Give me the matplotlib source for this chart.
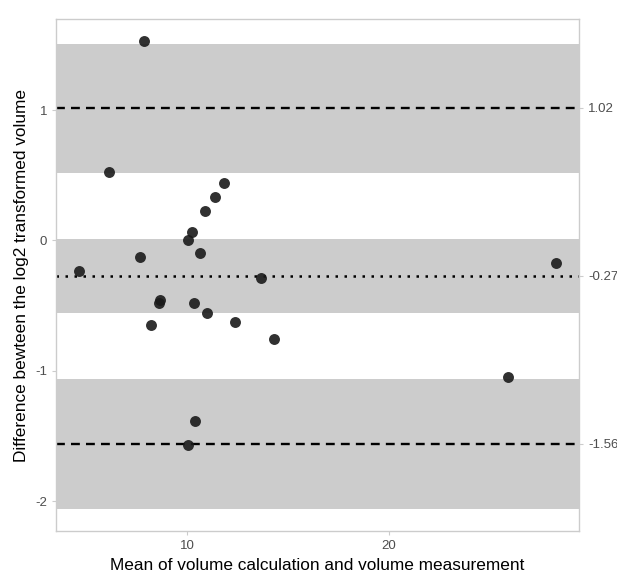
import numpy as np
import matplotlib
matplotlib.use('Agg')
import matplotlib.pyplot as plt

plt.rcParams['font.family'] = ['Liberation Sans', 'DejaVu Sans']
plt.rcParams['axes.unicode_minus'] = False

mean_vol = [7.85, 6.15, 11.83, 11.37, 10.91, 10.26, 10.05, 10.66, 7.68, 4.64, 13.65,
            28.29, 8.68, 8.59, 10.33, 10.97, 8.23, 12.39, 14.33, 10.41, 10.05, 25.94]
diff_log2 = [1.53, 0.527, 0.44, 0.337, 0.229, 0.068, 0.004, -0.098, -0.129, -0.232, -0.29,
             -0.175, -0.458, -0.483, -0.478, -0.553, -0.645, -0.622, -0.76, -1.383, -1.568, -1.048]

bias = -0.27
upper_loa = 1.02
lower_loa = -1.56
# confidence bands (low, high)
bias_ci = (-0.56, 0.014)
upper_ci = (0.52, 1.51)
lower_ci = (-2.06, -1.065)
line_labels = ['1.02', '-0.27', '-1.56']

fig = plt.figure(figsize=(6.17, 5.73), dpi=100)
ax = fig.add_axes([0.0908, 0.0733, 0.8476, 0.8935])

for lo, hi in [upper_ci, bias_ci, lower_ci]:
    ax.axhspan(lo, hi, color='#cccccc', lw=0, zorder=0)

ax.axhline(upper_loa, color='black', ls=(0, (3.75, 2.6)), lw=1.7, zorder=1)
ax.axhline(lower_loa, color='black', ls=(0, (3.75, 2.6)), lw=1.7, zorder=1)
ax.axhline(bias, color='black', ls=(0, (1, 2.6)), lw=1.8, zorder=1)

ax.scatter(mean_vol, diff_log2, s=62, color='#1a1a1a', alpha=0.9, lw=0, zorder=3)

ax.set_xlim(3.5, 29.45)
ax.set_ylim(-2.23, 1.70)
ax.set_xticks([10, 20])
ax.set_yticks([-2, -1, 0, 1])

for s in ax.spines.values():
    s.set_color('#cccccc')
    s.set_linewidth(1.0)
ax.tick_params(colors='#cccccc', labelcolor='#4d4d4d', labelsize=9.5, length=3, width=0.8)

ax.set_xlabel('Mean of volume calculation and volume measurement', fontsize=12.4, labelpad=4)
ax.set_ylabel('Difference bewteen the log2 transformed volume', fontsize=12.4, labelpad=4)

ax2 = ax.twinx()
ax2.set_ylim(ax.get_ylim())
ax2.set_yticks([upper_loa, bias, lower_loa])
ax2.set_yticklabels(line_labels)
ax2.tick_params(colors='#cccccc', labelcolor='#4d4d4d', labelsize=9.5, length=3, width=0.8)
for s in ax2.spines.values():
    s.set_visible(False)

fig.savefig('out.png', dpi=100)
